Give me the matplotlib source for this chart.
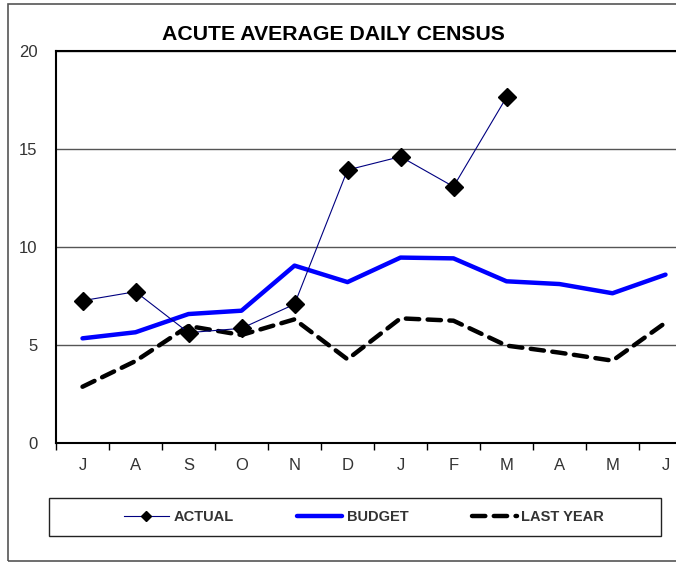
import matplotlib.pyplot as plt
from matplotlib.patches import Rectangle

plt.rcParams['font.family'] = ['Liberation Sans', 'DejaVu Sans']

months = ['J', 'A', 'S', 'O', 'N', 'D', 'J', 'F', 'M', 'A', 'M', 'J']
actual = [7.26, 7.72, 5.63, 5.85, 7.08, 13.93, 14.61, 13.08, 17.64]
budget = [5.34, 5.65, 6.58, 6.75, 9.05, 8.21, 9.46, 9.42, 8.25, 8.11, 7.64, 8.59]
last_year = [2.87, 4.18, 5.97, 5.51, 6.31, 4.27, 6.36, 6.24, 4.97, 4.61, 4.20, 6.14]

W, H = 676, 562
fig = plt.figure(figsize=(W / 100, H / 100), dpi=100)

# rahmen um das ganze diagramm (rechts abgeschnitten)
fig.patches.append(Rectangle((8 / W, 1 - 561 / H), 700 / W, 557 / H, transform=fig.transFigure,
                             fill=False, edgecolor='#555555', linewidth=1.2))
# rahmen der legende
fig.patches.append(Rectangle((49 / W, 1 - 536 / H), 612 / W, 38 / H, transform=fig.transFigure,
                             fill=False, edgecolor='#222222', linewidth=1.0))

ax = fig.add_axes([56 / W, 1 - 443 / H, 636 / W, 392 / H])

x = list(range(len(months)))
ax.plot(x, budget, color='#0000ff', linewidth=3.2, label='BUDGET', zorder=3, solid_capstyle='round')
ax.plot(x, last_year, color='black', linewidth=3.2, linestyle=(0, (3.0, 1.9)), label='LAST YEAR',
        zorder=3, dash_capstyle='round')
ax.plot(x[:len(actual)], actual, color='#000080', linewidth=0.8, marker='D', markersize=9,
        markerfacecolor='black', markeredgecolor='black', label='ACTUAL', zorder=4)

ax.set_xlim(-0.5, 11.5)
ax.set_ylim(0, 20)
ax.set_yticks([0, 5, 10, 15, 20])
ax.yaxis.grid(True, color='#555555', linewidth=1.0)
ax.set_axisbelow(True)
ax.set_xticks([i - 0.5 for i in range(13)], minor=False)
ax.set_xticklabels([])
ax.set_xticks(x, minor=True)
ax.set_xticklabels(months, minor=True)
ax.tick_params(axis='x', which='major', direction='out', length=5, width=1, color='black')
ax.tick_params(axis='x', which='minor', length=0, pad=11, labelsize=12, labelcolor='#333333')
ax.tick_params(axis='y', length=0, pad=13.5, labelsize=12, labelcolor='#333333')
ax.spines['right'].set_visible(False)
for s in ['left', 'bottom', 'top']:
    ax.spines[s].set_linewidth(1.5)
    ax.spines[s].set_color('black')

fig.text(333 / W, 1 - 35 / H, 'ACUTE AVERAGE DAILY CENSUS', ha='center', va='center',
         fontsize=15.3, fontweight='bold')

h, l = ax.get_legend_handles_labels()
order = [2, 0, 1]
leg = fig.legend([h[i] for i in order], [l[i] for i in order], loc='center', ncol=3,
                 bbox_to_anchor=(364 / W, 1 - 517 / H), frameon=False,
                 prop={'weight': 'bold', 'size': 10.5}, handlelength=3.1, handletextpad=0.3,
                 columnspacing=4.35, borderpad=0, borderaxespad=0)
for t in leg.get_texts():
    t.set_color('#333333')
for lh in leg.get_lines():
    if lh.get_marker() == 'D':
        lh.set_markersize(5)

fig.savefig('out.png', dpi=100)
